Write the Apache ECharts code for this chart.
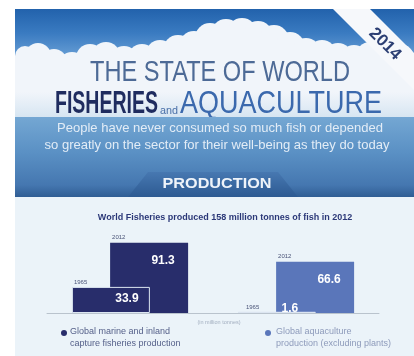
<!DOCTYPE html>
<html>
<head>
<meta charset="utf-8">
<script src="https://cdn.jsdelivr.net/npm/echarts@6/dist/echarts.min.js"></script>
<style>
html,body{margin:0;padding:0;background:#ffffff;}
#chart{width:414px;height:356px;}
</style>
</head>
<body>
<div id="chart"></div>
<script>
// ---- data ----
const categories = ['Global marine and inland capture fisheries production', 'Global aquaculture production (excluding plants)'];
const years = ['1965', '2012'];
const values1965 = [33.9, 1.6];
const values2012 = [91.3, 66.6];
const legendLines = [['Global marine and inland', 'capture fisheries production'], ['Global aquaculture', 'production (excluding plants)']];
const chartTitle = 'World Fisheries produced 158 million tonnes of fish in 2012';
const unitText = '(in million tonnes)';
const headTitle1 = 'THE STATE OF WORLD';
const headSubtitle = ['People have never consumed so much fish or depended', 'so greatly on the sector for their well-being as they do today'];
const sectionName = 'PRODUCTION';
const editionYear = '2014';

const barColors = ['#282d6b', '#5a76ba'];
const legendTextColors = ['#56618a', '#8e9bbb'];
const SANS = "'Liberation Sans', Arial, sans-serif";

const mctx = document.createElement('canvas').getContext('2d');
function fitScale(text, font, target) { mctx.font = font; return target / mctx.measureText(text).width; }
function fitText(text, font, fill, x, y, target, align) {
  const s = fitScale(text, font, target);
  return {type: 'text', x: x, y: y, scaleX: s,
    style: {text: text, fill: fill, font: font, textAlign: align || 'left', textVerticalAlign: 'middle'}};
}

const chart = echarts.init(document.getElementById('chart'), null, {renderer: 'canvas'});

// clouds: [cx, cy, r] (decorative)
const cloudCircles = [
  [25,56,10],[38,56,13],[54,62,13],[72,66,14],[90,58,14],[106,56,14],[124,60,14],[142,58,14],
  [160,54,14],[178,50,15],[194,46,15],[210,38,15],[226,34,15],[242,33,15],[258,36,15],[274,40,15],
  [290,47,15],[306,52,14],[322,54,14],[338,57,14],[354,59,14],[370,56,14],[386,56,14],[400,58,14]
];
const CLOUD = '#f1f5fa';
const cloudEls = [];
cloudCircles.forEach(c => {
  cloudEls.push({type: 'circle', shape: {cx: c[0], cy: c[1], r: c[2]}, style: {fill: CLOUD}});
  const x0 = Math.max(15, c[0] - c[2]);
  cloudEls.push({type: 'rect', shape: {x: x0, y: c[1], width: c[0] + c[2] - x0, height: 119 - c[1]}, style: {fill: CLOUD}});
});

const graphics = [
  // sky
  {type: 'rect', shape: {x: 15, y: 9, width: 399, height: 110},
   style: {fill: new echarts.graphic.LinearGradient(0,0,0,1,[
     {offset:0,color:'#2262ac'},{offset:0.22,color:'#3a7bc1'},{offset:0.45,color:'#6aa0d6'},{offset:1,color:'#a9cbe8'}])}},
  ...cloudEls,
  // cloud bottom shading
  {type: 'rect', shape: {x: 15, y: 92, width: 399, height: 27},
   style: {fill: new echarts.graphic.LinearGradient(0,0,0,1,[
     {offset:0,color:'rgba(214,229,242,0)'},{offset:1,color:'#d4e4f1'}])}},
  // ribbon
  {type: 'polygon', shape: {points: [[333,9],[370,9],[414,53],[414,90]]},
   style: {fill: '#f6f8fb'}},
  {type: 'text', x: 385, y: 44, rotation: -Math.PI/4,
   style: {text: editionYear, fill: '#2c3f73', font: 'bold 17px ' + SANS, textAlign: 'center', textVerticalAlign: 'middle'}},
  // title
  fitText(headTitle1, '29px ' + SANS, '#4d6a96', 220, 73, 260, 'center'),
  fitText('FISHERIES', 'bold 31px ' + SANS, '#1f2c5f', 55, 104, 103),
  fitText('and', '11px ' + SANS, '#4a70a8', 160, 111, 18),
  fitText('AQUACULTURE', '31px ' + SANS, '#3b69ad', 180, 104, 202),
  // band
  {type: 'rect', shape: {x: 15, y: 117, width: 399, height: 80},
   style: {fill: new echarts.graphic.LinearGradient(0,0,0,1,[
     {offset:0,color:'#74a7d3'},{offset:0.45,color:'#5a90c4'},{offset:0.85,color:'#4577b0'},{offset:1,color:'#2f5d94'}])}},
  // production tab
  {type: 'polygon', shape: {points: [[128,197],[148,172],[278,172],[298,197]]},
   style: {fill: new echarts.graphic.LinearGradient(0,0,0,1,[
     {offset:0,color:'#4778b1'},{offset:1,color:'#2d5a92'}])}},
  fitText(headSubtitle[0], '13px ' + SANS, '#e2ecf6', 220, 128, 326, 'center'),
  fitText(headSubtitle[1], '13px ' + SANS, '#e2ecf6', 217, 145, 345, 'center'),
  fitText(sectionName, 'bold 15px ' + SANS, '#eef3f9', 217, 184, 109, 'center'),
  // light panel
  {type: 'rect', shape: {x: 15, y: 197, width: 399, height: 159}, style: {fill: '#ebf3f9'}},
  // unit text
  {type: 'text', x: 219, y: 322,
   style: {text: unitText, fill: '#a3afc0', font: '5.5px ' + SANS, textAlign: 'center', textVerticalAlign: 'middle'}},
  // legend
  {type: 'circle', shape: {cx: 64, cy: 333, r: 3}, style: {fill: barColors[0]}},
  {type: 'text', x: 70, y: 338,
   style: {text: legendLines[0].join('\n'), fill: legendTextColors[0], font: '9px ' + SANS, lineHeight: 12, textAlign: 'left', textVerticalAlign: 'middle'}},
  {type: 'circle', shape: {cx: 268, cy: 333, r: 3}, style: {fill: barColors[1]}},
  {type: 'text', x: 276, y: 338,
   style: {text: legendLines[1].join('\n'), fill: legendTextColors[1], font: '9px ' + SANS, lineHeight: 12, textAlign: 'left', textVerticalAlign: 'middle'}}
];
graphics.forEach((g, i) => { g.z = -1; g.zlevel = 0; g.silent = true; g.z2 = i; });

const colorFn = p => barColors[p.dataIndex];

const option = {
  animation: false,
  backgroundColor: '#ffffff',
  title: {
    text: chartTitle, left: 220, top: 208, textAlign: 'center',
    textStyle: {color: '#2b3878', fontSize: 9, fontWeight: 'bold', fontFamily: SANS}
  },
  grid: {left: 47, width: 332, top: 236, height: 77},
  xAxis: [
    {type: 'category', data: categories, axisLine: {show: true, lineStyle: {color: '#b9c3cd', width: 1}},
     axisTick: {show: false}, axisLabel: {show: false}},
    {type: 'category', data: categories, show: false}
  ],
  yAxis: {type: 'value', min: 0, max: 100, show: false, splitLine: {show: false}},
  graphic: {elements: graphics},
  series: [
    {name: years[0], type: 'bar', xAxisIndex: 0, barWidth: 78, barGap: '-51%', z: 3,
     data: values1965.map((v, i) => i === 1
       ? {value: v, label: {position: 'insideBottom', distance: 0, offset: [13, 2]}}
       : {value: v}),
     itemStyle: {color: colorFn, borderColor: '#dce6f1', borderWidth: 1},
     label: {show: true, position: 'insideTop', distance: 6, offset: [16, 0], color: '#ffffff', fontWeight: 'bold', fontSize: 12, fontFamily: SANS}},
    {name: years[1], type: 'bar', xAxisIndex: 0, barWidth: 78, barGap: '-51%', z: 2,
     data: values2012,
     itemStyle: {color: colorFn},
     label: {show: true, position: 'insideTop', distance: 12, offset: [14, 0], color: '#ffffff', fontWeight: 'bold', fontSize: 12, fontFamily: SANS}},
    // year labels (transparent duplicates on hidden axis)
    {name: years[0] + ' label', type: 'bar', xAxisIndex: 1, barWidth: 78, barGap: '-51%', z: 4, silent: true,
     data: values1965.map((v, i) => i === 1 ? {value: v, label: {position: [8, -7]}} : {value: v}),
     itemStyle: {color: 'rgba(0,0,0,0)'},
     label: {show: true, position: [2, -8], formatter: years[0], color: '#4a5478', fontSize: 6, fontFamily: SANS}},
    {name: years[1] + ' label', type: 'bar', xAxisIndex: 1, barWidth: 78, barGap: '-51%', z: 4, silent: true,
     data: values2012,
     itemStyle: {color: 'rgba(0,0,0,0)'},
     label: {show: true, position: [2, -8], formatter: years[1], color: '#4a5478', fontSize: 6, fontFamily: SANS}}
  ]
};
chart.setOption(option);
</script>
</body>
</html>
